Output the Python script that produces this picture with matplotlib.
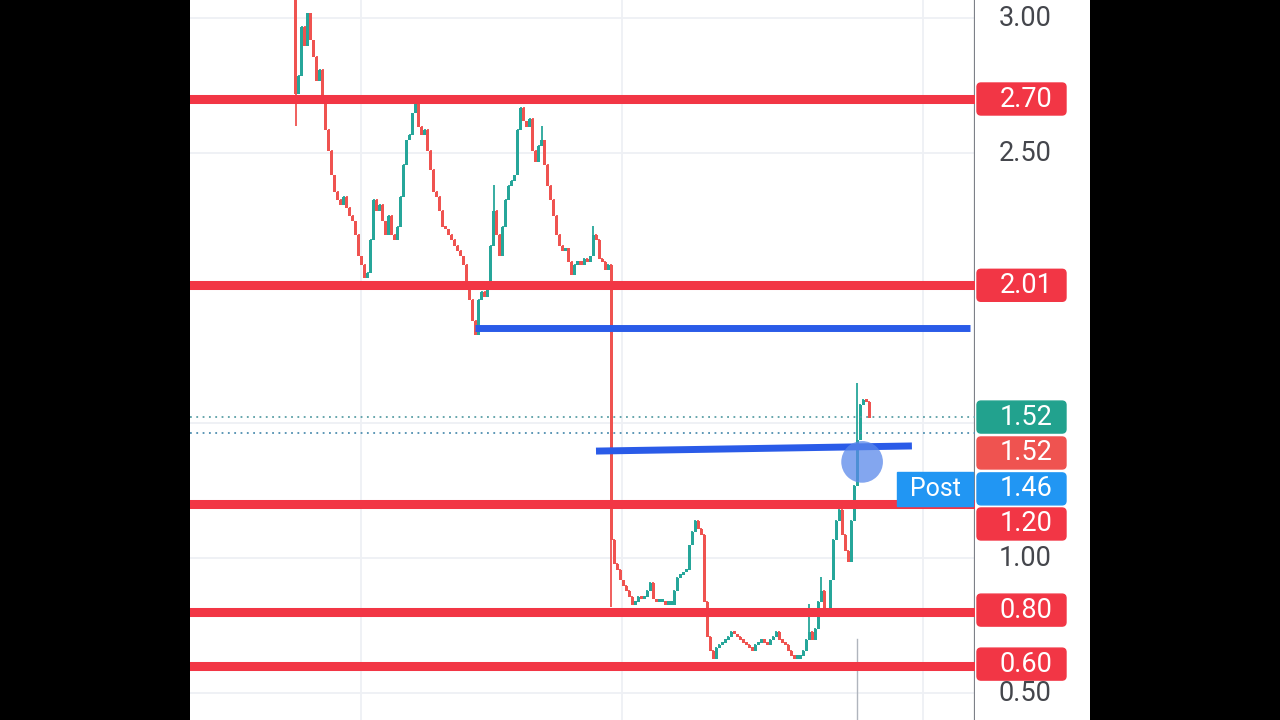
import numpy as np
import matplotlib.pyplot as plt
from matplotlib.patches import FancyBboxPatch, Rectangle

plt.rcParams['font.family'] = ['Roboto', 'DejaVu Sans']

# candle closes (open = previous close)
first_open = 3.30
closes = [2.72, 2.79, 2.97, 2.90, 3.02, 2.92, 2.86, 2.77, 2.81, 2.70,
          2.59, 2.51, 2.42, 2.36, 2.33, 2.31, 2.34, 2.30, 2.27, 2.25,
          2.20, 2.12, 2.09, 2.04, 2.06, 2.18, 2.33, 2.29, 2.31, 2.25,
          2.20, 2.27, 2.20, 2.18, 2.23, 2.34, 2.46, 2.55, 2.57, 2.65,
          2.69, 2.60, 2.57, 2.59, 2.51, 2.44, 2.36, 2.34, 2.29, 2.23,
          2.22, 2.20, 2.18, 2.16, 2.14, 2.12, 2.09, 2.01, 1.96, 1.88,
          1.83, 1.96, 1.99, 1.97, 2.01, 2.16, 2.29, 2.20, 2.12, 2.23,
          2.33, 2.38, 2.40, 2.42, 2.59, 2.67, 2.62, 2.60, 2.63, 2.51,
          2.47, 2.53, 2.55, 2.46, 2.38, 2.33, 2.27, 2.20, 2.16, 2.14,
          2.15, 2.10, 2.05, 2.09, 2.10, 2.09, 2.11, 2.10, 2.12, 2.20,
          2.18, 2.11, 2.10, 2.07, 2.09, 1.07, 0.98, 0.96, 0.92, 0.90,
          0.88, 0.86, 0.83, 0.84, 0.86, 0.85, 0.86, 0.88, 0.91, 0.85,
          0.84, 0.84, 0.84, 0.83, 0.83, 0.83, 0.88, 0.93, 0.94, 0.95,
          0.96, 1.05, 1.10, 1.14, 1.11, 1.09, 0.84, 0.71, 0.66, 0.63,
          0.67, 0.68, 0.69, 0.70, 0.71, 0.73, 0.72, 0.71, 0.70, 0.69,
          0.68, 0.67, 0.66, 0.68, 0.69, 0.70, 0.69, 0.68, 0.70, 0.71,
          0.73, 0.70, 0.69, 0.68, 0.66, 0.64, 0.63, 0.63, 0.64, 0.66,
          0.70, 0.73, 0.70, 0.74, 0.84, 0.88, 0.81, 0.80, 0.92, 1.07,
          1.14, 1.18, 1.09, 1.03, 0.99, 1.14, 1.27, 1.44, 1.57, 1.59,
          1.58, 1.52]
spike_idx = [0, 66, 82, 99, 105, 171, 175, 187]
spike_px = [2.60, 2.38, 2.60, 2.23, 0.82, 0.83, 0.93, 1.65]

red_levels = [2.70, 2.01, 1.20, 0.80, 0.60]
blue1_x = [59.7, 224.7]
blue1_y = [1.852, 1.852]
blue2_x = [100, 205.3]
blue2_y = [1.396, 1.415]
dotted_levels = [1.522, 1.463]
dotted_colors = ['#5a9fa6', '#4f8fb0']

tick_vals = [3.00, 2.50, 1.00, 0.50]
box_texts = ['2.70', '2.01', '1.52', '1.52', '1.46', '1.20', '0.80', '0.60']
box_pos = [2.70, 2.01, 1.522, 1.389, 1.256, 1.126, 0.807, 0.607]
box_colors = ['#f23645', '#f23645', '#22a28e', '#ef5350', '#2196f3',
              '#f23645', '#f23645', '#f23645']

teal = '#26a69a'
red = '#ef5350'

fig = plt.figure(figsize=(12.8, 7.2), dpi=100, facecolor='black')
ax = fig.add_axes([190 / 1280, 0, 785 / 1280, 1], facecolor='white')
ax2 = fig.add_axes([975 / 1280, 0, 115 / 1280, 1], facecolor='white')

ymin, ymax = 0.40, 3.0667
ax.set_xlim(-35.33, 226.33)
ax.set_ylim(ymin, ymax)

# grid
for g in [0.5, 1.0, 1.5, 2.0, 2.5, 3.0]:
    ax.axhline(g, color='#eef0f4', lw=1.3, zorder=0)
for g in [21.7, 108.7, 209]:
    ax.axvline(g, color='#eef0f4', lw=1.3, zorder=0)

# candles
c = np.array(closes)
o = np.array([first_open] + closes[:-1])
idx = np.arange(len(c))
hi = np.maximum(o, c)
lo = np.minimum(o, c)
wick_hi = hi.copy()
wick_lo = lo.copy()
for i, p in zip(spike_idx, spike_px):
    wick_hi[i] = max(wick_hi[i], p)
    wick_lo[i] = min(wick_lo[i], p)
cols = [teal if cc >= oo else red for oo, cc in zip(o, c)]
ax.vlines(idx, wick_lo, wick_hi, colors=cols, lw=1.3, zorder=2)
ax.bar(idx, np.maximum(hi - lo, 0.012), bottom=lo - 0.003, width=1.0,
       color=cols, zorder=2)

# thin vertical marker
ax.plot([187, 187], [ymin, 0.70], color='#b0b5bd', lw=1, zorder=1)

# levels
for lv in red_levels:
    ax.axhline(lv, color='#f23645', lw=6.5, zorder=3)
for lv, col in zip(dotted_levels, dotted_colors):
    ax.axhline(lv, color=col, lw=1.3, ls=(0, (1, 2.5)), zorder=3)
ax.plot(blue1_x, blue1_y, color='#2a5be8', lw=5, solid_capstyle='butt', zorder=4)
ax.plot(blue2_x, blue2_y, color='#2a5be8', lw=5, solid_capstyle='butt', zorder=4)
ax.scatter([188.7], [1.356], s=900, color='#5a88ea', alpha=0.75,
           edgecolors='none', zorder=5)

# Post box
ax.add_patch(Rectangle((0.9006, 0.2972), 0.0968, 0.0472, transform=ax.transAxes,
                       color='#2196f3', zorder=6, clip_on=False))
ax.text(0.949, 0.3208, 'Post', transform=ax.transAxes, color='white',
        fontsize=18, ha='center', va='center', zorder=7)

ax.set_xticks([])
ax.set_yticks([])
for s in ['left', 'top', 'bottom']:
    ax.spines[s].set_visible(False)
ax.spines['right'].set_color('#7d8088')
ax.spines['right'].set_linewidth(1.6)

# price scale
ax2.set_xlim(0, 115)
ax2.set_ylim(ymin, ymax)
ax2.set_xticks([])
ax2.set_yticks([])
for s in ax2.spines.values():
    s.set_visible(False)
for v in tick_vals:
    ax2.text(50, v, f'{v:.2f}', color='#44464c', fontsize=19.5,
             ha='center', va='center')
bh = 32 / 270
for t, p, col in zip(box_texts, box_pos, box_colors):
    ax2.add_patch(FancyBboxPatch((2, p - bh / 2), 89, bh,
                                 boxstyle='round,pad=0,rounding_size=4',
                                 mutation_aspect=1 / 270, color=col))
    ax2.text(51, p, t, color='white', fontsize=19.5, ha='center', va='center')

fig.savefig('out.png', dpi=100, facecolor='black')
